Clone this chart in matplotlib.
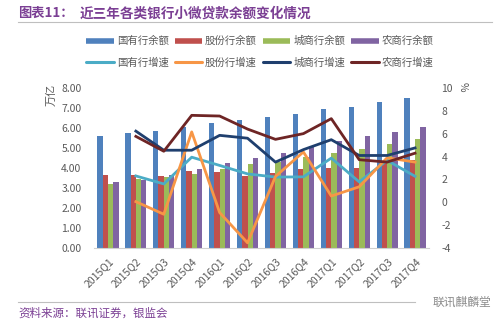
import numpy as np
import matplotlib
matplotlib.use("Agg")
import matplotlib.pyplot as plt
from matplotlib.lines import Line2D

plt.rcParams['font.family'] = ['Noto Sans CJK SC', 'DejaVu Sans']

categories = ["2015Q1", "2015Q2", "2015Q3", "2015Q4", "2016Q1", "2016Q2",
              "2016Q3", "2016Q4", "2017Q1", "2017Q2", "2017Q3", "2017Q4"]

# balances (万亿)
state_bal = [5.60, 5.75, 5.85, 6.03, 6.27, 6.42, 6.57, 6.70, 6.95, 7.07, 7.32, 7.48]
joint_bal = [3.65, 3.65, 3.60, 3.85, 3.80, 3.60, 3.77, 3.93, 3.98, 3.98, 4.30, 4.40]
city_bal = [3.20, 3.43, 3.57, 3.72, 3.95, 4.18, 4.28, 4.53, 4.77, 4.95, 5.18, 5.43]
rural_bal = [3.30, 3.40, 3.65, 3.93, 4.23, 4.50, 4.73, 5.10, 5.37, 5.60, 5.82, 6.03]

# growth (%), first quarter has no value
state_g = [np.nan, 2.3, 1.6, 3.94, 3.22, 2.48, 2.2, 2.22, 3.86, 1.78, 3.66, 2.27]
joint_g = [np.nan, 0.05, -1.05, 6.15, -0.9, -3.55, 2.25, 4.4, 0.54, 1.35, 3.89, 3.51]
city_g = [np.nan, 6.22, 4.55, 4.55, 5.85, 5.6, 3.51, 4.6, 5.47, 4.09, 4.09, 4.75]
rural_g = [np.nan, 5.76, 4.46, 7.6, 7.54, 6.4, 5.5, 6.0, 7.31, 3.72, 3.51, 4.29]

bar_labels = ["国有行余额", "股份行余额", "城商行余额", "农商行余额"]
line_labels = ["国有行增速", "股份行增速", "城商行增速", "农商行增速"]
left_ticks = [0, 1, 2, 3, 4, 5, 6, 7, 8]
right_ticks = [-4, -2, 0, 2, 4, 6, 8, 10]

bar_colors = ["#4F81BD", "#C0504D", "#9BBB59", "#8064A2"]
line_colors = ["#4BACC6", "#F79646", "#1F3F6E", "#6E2525"]
gray = "#595959"
purple = "#7B3F94"

fig = plt.figure(figsize=(5, 3.28), dpi=100)
ax = fig.add_axes([0.188, 0.244, 0.670, 0.488])
ax2 = ax.twinx()

x = np.arange(len(categories))
w = 0.19
offs = [-1.5 * w, -0.5 * w, 0.5 * w, 1.5 * w]
for vals, c, o in zip([state_bal, joint_bal, city_bal, rural_bal], bar_colors, offs):
    ax.bar(x + o, vals, width=w, color=c, zorder=2)

for vals, c in zip([state_g, joint_g, city_g, rural_g], line_colors):
    ax2.plot(x, vals, color=c, lw=2.0, zorder=3, solid_joinstyle='round')

ax.set_zorder(1)
ax2.set_zorder(2)
ax.patch.set_visible(False)

ax.set_xlim(-0.5, len(categories) - 0.5)
ax.set_ylim(0, 8)
ax2.set_ylim(-4, 10)
ax.set_yticks(left_ticks)
ax.set_yticklabels([f"{v:.2f}" for v in left_ticks])
ax2.set_yticks(right_ticks)
ax2.set_yticklabels([str(v) for v in right_ticks])
ax.set_xticks(x)
ax.set_xticklabels(categories, rotation=45, ha='right', rotation_mode='anchor')

for a in (ax, ax2):
    for s in a.spines.values():
        s.set_visible(False)
    a.tick_params(length=0, labelsize=7.5, colors=gray)
ax.spines['bottom'].set_visible(True)
ax.spines['bottom'].set_color("#D0D0D0")
ax.tick_params(axis='y', pad=9)
ax2.tick_params(axis='y', pad=9)
ax.tick_params(axis='x', pad=6)

# axis unit labels
fig.text(0.103, 0.71, "万亿", rotation=90, fontsize=8, color=gray, ha='center', va='center')
fig.text(0.925, 0.735, "%", rotation=270, fontsize=7.5, color=gray, ha='center', va='center')

# legend
handles, labels = [], []
for i in range(4):
    handles.append(Line2D([0], [0], color=bar_colors[i], lw=4, solid_capstyle='butt'))
    labels.append(bar_labels[i])
    handles.append(Line2D([0], [0], color=line_colors[i], lw=2.2, solid_capstyle='round'))
    labels.append(line_labels[i])
fig.legend(handles, labels, ncol=4, loc='center', bbox_to_anchor=(0.52, 0.842),
           frameon=False, fontsize=7.5, handlelength=2.6, handletextpad=0.3,
           columnspacing=0.6, labelspacing=1.05, labelcolor=gray)

# title
fig.text(0.036, 0.96, "图表11：", fontsize=9.5, fontweight='bold', color=purple, ha='left', va='center')
fig.text(0.16, 0.96, "近三年各类银行小微贷款余额变化情况", fontsize=9.8, fontweight='bold',
         color=purple, ha='left', va='center')
fig.add_artist(Line2D([0.036, 0.984], [0.933, 0.933], color="#BFBFBF", lw=0.8))

# footer
fig.add_artist(Line2D([0.036, 0.83], [0.08, 0.08], color="#BFBFBF", lw=0.8))
fig.text(0.036, 0.046, "资料来源：联讯证券，银监会", fontsize=8.3, style='italic', color=purple,
         ha='left', va='center')
fig.text(0.982, 0.08, "联讯麒麟堂", fontsize=8.5, color="#8C8C8C", ha='right', va='center')

fig.savefig("out.png", dpi=100)
